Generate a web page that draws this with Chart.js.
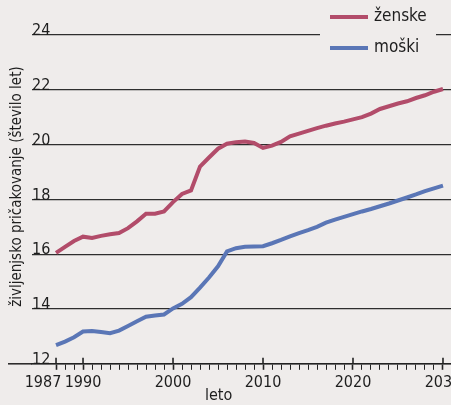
<!DOCTYPE html>
<html>
<head>
<meta charset="utf-8">
<script src="https://cdn.jsdelivr.net/npm/chart.js@4.4.0/dist/chart.umd.min.js"></script>
<style>
  html, body { margin: 0; padding: 0; background: #efeceb; }
  #wrap { width: 451px; height: 405px; }
</style>
</head>
<body>
<div id="wrap"><canvas id="grafika"></canvas></div>
<script>
// leta
var leta = [];
for (var l = 1987; l <= 2030; l++) leta.push(l);

// zenske
var zenske = [16.05, 16.27, 16.48, 16.64, 16.59, 16.67, 16.73, 16.77, 16.95, 17.2,
  17.48, 17.48, 17.56, 17.9, 18.2, 18.33, 19.2, 19.53, 19.85, 20.03,
  20.09, 20.11, 20.06, 19.88, 19.96, 20.1, 20.3, 20.4, 20.5, 20.6,
  20.69, 20.77, 20.84, 20.92, 21.0, 21.13, 21.3, 21.4, 21.5, 21.58,
  21.7, 21.8, 21.93, 22.03];

// moski
var moski = [12.68, 12.81, 12.97, 13.18, 13.2, 13.16, 13.12, 13.21, 13.38, 13.55,
  13.72, 13.76, 13.8, 14.02, 14.19, 14.43, 14.78, 15.15, 15.56, 16.1,
  16.22, 16.27, 16.28, 16.29, 16.4, 16.52, 16.65, 16.77, 16.88, 17.0,
  17.15, 17.26, 17.36, 17.46, 17.56, 17.65, 17.75, 17.85, 17.96, 18.07,
  18.18, 18.3, 18.4, 18.5];

var oznake = ['ženske', 'moški'];
var barve = ['#b24c6a', '#5a76b6'];
var yTicks = [12, 14, 16, 18, 20, 22, 24];

var pisava = "'Liberation Sans Narrow', 'DejaVu Sans Condensed', sans-serif";
var ozadje = '#efeceb';

function toPoints(arr) {
  return arr.map(function (v, i) { return { x: leta[i], y: v }; });
}

function jeGlavno(v) {
  return v === 1987 || v % 10 === 0;
}

// legenda v kotu, prekrije crto 24
const legendaKot = {
  id: 'legendaKot',
  afterDraw(chart) {
    const ctx = chart.ctx;
    const ca = chart.chartArea;
    var x0 = ca.right - 131;
    ctx.save();
    ctx.fillStyle = ozadje;
    ctx.fillRect(x0, 0, 116, 62);
    ctx.font = '17px ' + pisava;
    ctx.textBaseline = 'middle';
    chart.data.datasets.forEach(function (ds, i) {
      var y = 17 + i * 31;
      ctx.strokeStyle = ds.borderColor;
      ctx.lineWidth = 4;
      ctx.beginPath();
      ctx.moveTo(x0 + 10, y);
      ctx.lineTo(x0 + 48, y);
      ctx.stroke();
      ctx.fillStyle = '#1e1e1e';
      ctx.fillText(ds.label, x0 + 54, y);
    });
    ctx.restore();
  }
};

// os x podaljsana levo, glavne crtice cez os, oznake let (1987 levo od crtice)
const osX = {
  id: 'osX',
  afterDraw(chart) {
    const ctx = chart.ctx;
    const ca = chart.chartArea;
    const sc = chart.scales.x;
    ctx.save();
    ctx.strokeStyle = '#222';
    ctx.lineWidth = 1.5;
    ctx.beginPath();
    ctx.moveTo(8, ca.bottom);
    ctx.lineTo(ca.left, ca.bottom);
    ctx.stroke();

    ctx.fillStyle = '#1e1e1e';
    ctx.font = '16px ' + pisava;
    ctx.textAlign = 'center';
    ctx.textBaseline = 'middle';
    sc.ticks.forEach(function (t) {
      if (!jeGlavno(t.value)) return;
      var px = sc.getPixelForValue(t.value);
      ctx.lineWidth = 1.6;
      ctx.beginPath();
      ctx.moveTo(px, ca.bottom - 6);
      ctx.lineTo(px, ca.bottom);
      ctx.stroke();
      if (t.value === 1987) px -= 13;
      ctx.fillText(String(t.value), px, ca.bottom + 19);
    });
    ctx.restore();
  }
};

new Chart(document.getElementById('grafika'), {
  type: 'line',
  data: {
    datasets: [{
      label: oznake[0],
      data: toPoints(zenske),
      borderColor: barve[0],
      borderWidth: 4,
      pointRadius: 0,
      tension: 0
    }, {
      label: oznake[1],
      data: toPoints(moski),
      borderColor: barve[1],
      borderWidth: 4,
      pointRadius: 0,
      tension: 0
    }]
  },
  options: {
    responsive: true,
    maintainAspectRatio: false,
    animation: false,
    layout: { padding: { top: 35, right: 0, left: 8, bottom: 0 } },
    plugins: {
      legend: { display: false },
      tooltip: { enabled: false }
    },
    scales: {
      x: {
        type: 'linear',
        min: 1984.33,
        max: 2030.89,
        afterBuildTicks: function (axis) {
          axis.ticks = leta.map(function (v) { return { value: v }; });
        },
        ticks: { display: false, autoSkip: false },
        grid: {
          drawOnChartArea: false,
          tickLength: 6,
          tickColor: '#222',
          tickWidth: function (c) {
            var v = c.tick ? c.tick.value : 0;
            return jeGlavno(v) ? 1.6 : 1;
          }
        },
        border: { color: '#222', width: 1.5 },
        title: {
          display: true,
          text: 'leto          ',
          color: '#1e1e1e',
          font: { family: pisava, size: 16 },
          padding: { top: 16, bottom: 0 }
        }
      },
      y: {
        min: 12,
        max: 24,
        afterBuildTicks: function (axis) {
          axis.ticks = yTicks.map(function (v) { return { value: v }; });
        },
        ticks: {
          mirror: true,
          padding: 0,
          labelOffset: -4,
          color: '#1e1e1e',
          font: { family: pisava, size: 16 }
        },
        grid: {
          drawTicks: false,
          color: '#2e2e2e',
          lineWidth: 1.2
        },
        border: { display: false },
        title: {
          display: true,
          text: '      življenjsko pričakovanje (število let)',
          color: '#1e1e1e',
          font: { family: pisava, size: 15 },
          padding: { top: 0, bottom: 6 }
        }
      }
    }
  },
  plugins: [legendaKot, osX]
});
</script>
</body>
</html>
